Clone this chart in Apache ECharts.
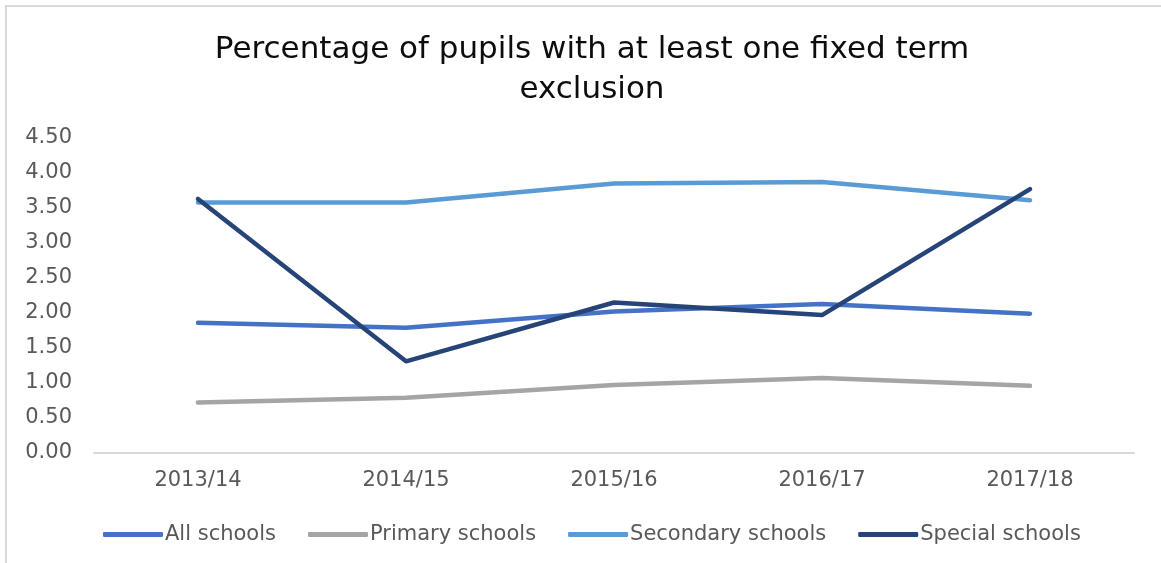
<!DOCTYPE html>
<html>
<head>
<meta charset="utf-8">
<script src="https://cdn.jsdelivr.net/npm/echarts@6/dist/echarts.min.js"></script>
<style>
  html, body { margin: 0; padding: 0; background: #fff; }
  #chart { width: 1161px; height: 563px; }
</style>
</head>
<body>
<div id="chart"></div>
<script>
// School years on the category axis
const years = ['2013/14', '2014/15', '2015/16', '2016/17', '2017/18'];

// Percentage of pupils with at least one fixed term exclusion
const allSchools = [1.86, 1.79, 2.02, 2.13, 1.99];
const primarySchools = [0.72, 0.79, 0.97, 1.07, 0.96];
const secondarySchools = [3.58, 3.58, 3.85, 3.87, 3.61];
const specialSchools = [3.63, 1.31, 2.15, 1.97, 3.77];

const seriesNames = ['All schools', 'Primary schools', 'Secondary schools', 'Special schools'];
const seriesColors = ['#4472C4', '#A5A5A5', '#5B9BD5', '#264478'];
const seriesData = [allSchools, primarySchools, secondarySchools, specialSchools];

const font = '"DejaVu Sans", "Noto Sans", sans-serif';

const chart = echarts.init(document.getElementById('chart'), null, { renderer: 'canvas' });

chart.setOption({
  backgroundColor: '#fff',
  animation: false,
  title: {
    text: 'Percentage of pupils with at least one fixed term\nexclusion',
    left: 587,
    textAlign: 'center',
    top: 25,
    textStyle: {
      fontFamily: font,
      fontSize: 31,
      fontWeight: 'normal',
      color: '#0d0d0d',
      lineHeight: 40
    }
  },
  graphic: [{
    type: 'rect',
    shape: { x: 6, y: 6, width: 1170, height: 580 },
    style: { fill: 'none', stroke: '#d9d9d9', lineWidth: 2 },
    silent: true
  }],
  legend: {
    data: seriesNames,
    left: 98,
    top: 519,
    icon: 'roundRect',
    itemWidth: 60,
    itemHeight: 5,
    itemGap: 32,
    textStyle: {
      fontFamily: font,
      fontSize: 21,
      color: '#595959',
      padding: [0, 0, 0, -3]
    }
  },
  grid: {
    left: 94,
    right: 27,
    top: 138,
    bottom: 110,
    containLabel: false
  },
  xAxis: {
    type: 'category',
    data: years,
    boundaryGap: true,
    axisLine: { lineStyle: { color: '#d9d9d9', width: 2 } },
    axisTick: { show: false },
    axisLabel: {
      fontFamily: font,
      fontSize: 21,
      color: '#595959',
      margin: 17
    }
  },
  yAxis: {
    type: 'value',
    min: 0,
    max: 4.5,
    interval: 0.5,
    axisLine: { show: false },
    axisTick: { show: false },
    splitLine: { show: false },
    axisLabel: {
      fontFamily: font,
      fontSize: 21,
      color: '#595959',
      margin: 22,
      formatter: v => v.toFixed(2)
    }
  },
  series: seriesNames.map((name, i) => ({
    name: name,
    type: 'line',
    data: seriesData[i],
    symbol: 'none',
    color: seriesColors[i],
    lineStyle: { width: 4.5, color: seriesColors[i], cap: 'round', join: 'round' },
    itemStyle: { color: seriesColors[i] }
  }))
});
</script>
</body>
</html>
